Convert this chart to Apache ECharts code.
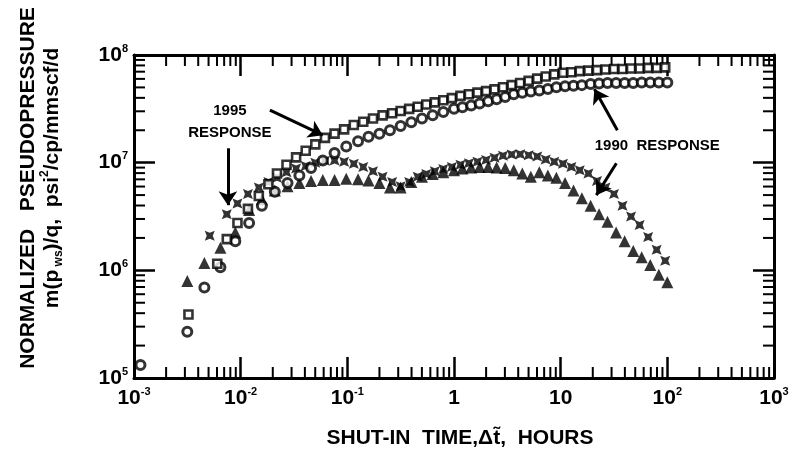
<!DOCTYPE html>
<html>
<head>
<meta charset="utf-8">
<script src="https://cdn.jsdelivr.net/npm/echarts@6/dist/echarts.min.js"></script>
<style>
  html, body { margin: 0; padding: 0; background: #fff; }
  #chart { width: 803px; height: 453px; }
</style>
</head>
<body>
<div id="chart"></div>
<script>
// shut-in time (hours) and normalized pseudopressure, psi^2/cp/mmscf/d
var time1995 = [3.24e-3, 5.13e-3, 6.03e-3, 7.41e-3, 9.33e-3, 1.17e-2, 1.48e-2, 1.82e-2, 2.19e-2, 2.69e-2,
  3.31e-2, 4.07e-2, 5.01e-2, 6.17e-2, 7.59e-2, 9.33e-2, 0.115, 0.141, 0.174, 0.214,
  0.263, 0.316, 0.380, 0.457, 0.550, 0.661, 0.794, 0.955, 1.15, 1.38,
  1.66, 2.00, 2.40, 2.88, 3.47, 4.17, 5.01, 6.03, 7.24, 8.71,
  10.5, 12.6, 15.1, 18.2, 21.9, 26.3, 31.6, 38.0, 45.7, 55.0,
  66.1, 79.4, 95.5];
var pressure1995 = [3.89e5, null, 1.15e6, 1.95e6, 2.75e6, 3.72e6, 4.90e6, 6.31e6, 7.94e6, 9.55e6,
  1.12e7, 1.29e7, 1.48e7, 1.70e7, 1.86e7, 2.04e7, 2.24e7, 2.40e7, 2.57e7, 2.75e7,
  2.88e7, 3.02e7, 3.16e7, 3.31e7, 3.47e7, 3.63e7, 3.80e7, 3.98e7, 4.17e7, 4.32e7,
  4.47e7, 4.62e7, 4.79e7, 5.01e7, 5.25e7, 5.50e7, 5.75e7, 6.03e7, 6.31e7, 6.61e7,
  6.84e7, 6.92e7, 7.08e7, 7.16e7, 7.24e7, 7.33e7, 7.41e7, 7.41e7, 7.50e7, 7.50e7,
  7.59e7, 7.59e7, 7.67e7];
var derivative1995 = [null, 2.09e6, null, 3.31e6, 4.17e6, 5.13e6, 5.89e6, 6.61e6, 7.24e6, 8.13e6,
  8.81e6, 9.33e6, 1.00e7, 1.04e7, 1.05e7, 1.02e7, 9.77e6, 9.12e6, 8.32e6, 7.41e6,
  6.61e6, 6.03e6, 6.61e6, 7.41e6, 7.85e6, 8.32e6, 8.71e6, 9.12e6, 9.55e6, 9.89e6,
  1.02e7, 1.06e7, 1.11e7, 1.16e7, 1.19e7, 1.20e7, 1.17e7, 1.14e7, 1.07e7, 1.02e7,
  9.77e6, 9.12e6, 8.51e6, 7.94e6, 6.76e6, 5.89e6, 5.13e6, 3.98e6, 3.16e6, 2.63e6,
  2.04e6, 1.55e6, 1.23e6];

var time1990 = [1.15e-3, 3.16e-3, 4.57e-3, 6.46e-3, 8.91e-3, 1.20e-2, 1.58e-2, 2.09e-2, 2.75e-2, 3.55e-2,
  4.57e-2, 5.89e-2, 7.59e-2, 9.77e-2, 0.126, 0.158, 0.200, 0.251, 0.316, 0.398,
  0.501, 0.631, 0.794, 1.00, 1.20, 1.45, 1.74, 2.09, 2.51, 3.02,
  3.63, 4.37, 5.25, 6.31, 7.59, 9.12, 11.0, 13.2, 15.8, 19.1,
  22.9, 27.5, 33.1, 39.8, 47.9, 57.5, 69.2, 83.2, 100];
var pressure1990 = [1.32e5, 2.69e5, 6.92e5, 1.07e6, 1.86e6, 2.75e6, 3.98e6, 5.37e6, 6.46e6, 7.59e6,
  8.91e6, 1.05e7, 1.23e7, 1.41e7, 1.58e7, 1.74e7, 1.86e7, 2.00e7, 2.19e7, 2.37e7,
  2.57e7, 2.75e7, 2.95e7, 3.16e7, 3.27e7, 3.39e7, 3.55e7, 3.72e7, 3.89e7, 4.07e7,
  4.32e7, 4.47e7, 4.57e7, 4.68e7, 4.84e7, 5.01e7, 5.13e7, 5.19e7, 5.25e7, 5.37e7,
  5.43e7, 5.50e7, 5.50e7, 5.50e7, 5.50e7, 5.56e7, 5.56e7, 5.56e7, 5.56e7];
var derivative1990 = [null, 7.94e5, 1.17e6, 1.62e6, 2.24e6, 3.63e6, 4.57e6, 5.50e6, 6.03e6, 6.46e6,
  6.76e6, 6.92e6, 6.92e6, 7.08e6, 7.00e6, 6.84e6, 6.46e6, 5.89e6, 5.89e6, 6.61e6,
  7.41e6, 7.85e6, 8.13e6, 8.51e6, 8.81e6, 9.02e6, 9.12e6, 9.12e6, 9.02e6, 8.91e6,
  8.51e6, 7.94e6, 7.41e6, 8.13e6, 7.59e6, 7.24e6, 6.46e6, 5.50e6, 4.68e6, 3.98e6,
  3.31e6, 2.82e6, 2.24e6, 1.86e6, 1.51e6, 1.32e6, 1.12e6, 9.12e5, 7.76e5];

// axes
var xRange = [1e-3, 1e3];
var yRange = [1e5, 1e8];
var xTickLabels = [['10', '-3'], ['10', '-2'], ['10', '-1'], ['1', ''], ['10', ''], ['10', '2'], ['10', '3']];
var yTickLabels = [['10', '5'], ['10', '6'], ['10', '7'], ['10', '8']];
var minorSteps = [2, 3, 4, 5, 6, 7, 8, 9];

// annotations, in data coordinates
var arrows = [
  [[0.0188, 3.08e7], [0.0589, 1.80e7]],
  [[7.59e-3, 1.36e7], [7.59e-3, 4.03e6]],
  [[34.0, 2.00e7], [20.7, 4.83e7]],
  [[33.3, 9.89e6], [21.6, 4.99e6]]
];
var notes = [
  { text: '1995', at: [7.93e-3, 3.01e7] },
  { text: 'RESPONSE', at: [7.93e-3, 1.88e7] },
  { text: '1990  RESPONSE', at: [80.5, 1.42e7] }
];

var font = '"Liberation Sans", Arial, Helvetica, sans-serif';
var ink = '#000';

function toPairs (t, v) {
  var out = [];
  for (var i = 0; i < t.length; i++) {
    if (v[i] != null) out.push([t[i], v[i]]);
  }
  return out;
}

function minorValues (range) {
  var out = [];
  for (var d = range[0]; d < range[1] * 0.999; d *= 10) {
    minorSteps.forEach(function (m) { out.push(d * m); });
  }
  return out;
}

function tickLabel (labels, range) {
  return function (value) {
    var i = Math.round(Math.log10(value) - Math.log10(range[0]));
    var l = labels[i];
    if (!l) return '';
    return l[1] ? '{n|' + l[0] + '}{s|' + l[1] + '}' : '{n|' + l[0] + '}';
  };
}

var labelRich = {
  n: { fontFamily: font, fontWeight: 'bold', fontSize: 21, color: ink, lineHeight: 24 },
  s: { fontFamily: font, fontWeight: 'bold', fontSize: 11, color: ink, verticalAlign: 'top', lineHeight: 12 }
};

var tickStyle = { inside: true, length: 21, lineStyle: { color: ink, width: 2.5 } };
var lineStyle = { show: true, lineStyle: { color: ink, width: 3 } };

// minor log ticks on all four sides
function minorTickX (params, api) {
  var x = api.coord([api.value(0), yRange[0]])[0];
  var yb = api.coord([xRange[0], yRange[0]])[1];
  var yt = api.coord([xRange[0], yRange[1]])[1];
  return {
    type: 'group',
    children: [
      { type: 'line', shape: { x1: x, y1: yb, x2: x, y2: yb - 11 }, style: { stroke: ink, lineWidth: 2 } },
      { type: 'line', shape: { x1: x, y1: yt, x2: x, y2: yt + 11 }, style: { stroke: ink, lineWidth: 2 } }
    ]
  };
}
function minorTickY (params, api) {
  var y = api.coord([xRange[0], api.value(1)])[1];
  var xl = api.coord([xRange[0], yRange[0]])[0];
  var xr = api.coord([xRange[1], yRange[0]])[0];
  return {
    type: 'group',
    children: [
      { type: 'line', shape: { x1: xl, y1: y, x2: xl + 11, y2: y }, style: { stroke: ink, lineWidth: 2 } },
      { type: 'line', shape: { x1: xr, y1: y, x2: xr - 11, y2: y }, style: { stroke: ink, lineWidth: 2 } }
    ]
  };
}

var chart = echarts.init(document.getElementById('chart'));

chart.setOption({
  animation: false,
  backgroundColor: '#fff',
  grid: { left: 134, top: 55, right: 29, bottom: 75 },
  xAxis: [
    {
      type: 'log', logBase: 10, min: xRange[0], max: xRange[1], splitNumber: 6,
      axisLine: lineStyle, axisTick: tickStyle, splitLine: { show: false },
      axisLabel: { margin: 8, formatter: tickLabel(xTickLabels, xRange), rich: labelRich }
    },
    {
      type: 'log', logBase: 10, min: xRange[0], max: xRange[1], splitNumber: 6, position: 'top',
      axisLine: lineStyle, axisTick: tickStyle, splitLine: { show: false }, axisLabel: { show: false }
    }
  ],
  yAxis: [
    {
      type: 'log', logBase: 10, min: yRange[0], max: yRange[1], splitNumber: 3,
      axisLine: lineStyle, axisTick: tickStyle, splitLine: { show: false },
      axisLabel: { margin: 6, formatter: tickLabel(yTickLabels, yRange), rich: labelRich }
    },
    {
      type: 'log', logBase: 10, min: yRange[0], max: yRange[1], splitNumber: 3, position: 'right',
      axisLine: lineStyle, axisTick: tickStyle, splitLine: { show: false }, axisLabel: { show: false }
    }
  ],
  series: [
    {
      type: 'custom', silent: true, renderItem: minorTickX,
      data: minorValues(xRange).map(function (v) { return [v, yRange[0]]; })
    },
    {
      type: 'custom', silent: true, renderItem: minorTickY,
      data: minorValues(yRange).map(function (v) { return [xRange[0], v]; })
    },
    {
      name: '1990 derivative', type: 'scatter', symbol: 'triangle', symbolSize: 12,
      itemStyle: { color: ink },
      data: toPairs(time1990, derivative1990)
    },
    {
      name: '1995 derivative', type: 'scatter',
      symbol: 'path://M0,0L5,2L10,0L8,5L10,10L5,8L0,10L2,5Z', symbolSize: 10,
      itemStyle: { color: ink },
      data: toPairs(time1995, derivative1995)
    },
    {
      name: '1990 pressure', type: 'scatter', symbol: 'circle', symbolSize: 9,
      itemStyle: { color: '#fff', borderColor: ink, borderWidth: 3 },
      data: toPairs(time1990, pressure1990)
    },
    {
      name: '1995 pressure', type: 'scatter', symbol: 'rect', symbolSize: 8,
      itemStyle: { color: '#fff', borderColor: ink, borderWidth: 2.6 },
      data: toPairs(time1995, pressure1995),
      markLine: {
        silent: true, symbol: ['none', 'arrow'], symbolSize: 14,
        label: { show: false },
        lineStyle: { color: ink, width: 3, type: 'solid' },
        data: arrows.map(function (a) { return [{ coord: a[0] }, { coord: a[1] }]; })
      }
    }
  ]
});

// text annotations placed through the axes
var graphics = notes.map(function (n) {
  var p = chart.convertToPixel({ gridIndex: 0 }, n.at);
  return {
    type: 'text', x: p[0], y: p[1],
    style: { text: n.text, fill: ink, font: 'bold 15px ' + font, align: 'center', verticalAlign: 'middle' }
  };
});

// axis titles
graphics.push({
  type: 'text', x: 460, y: 438,
  style: { text: 'SHUT-IN  TIME,\u0394t\u0303,  HOURS', fill: ink, font: 'bold 21px ' + font, align: 'center', verticalAlign: 'middle' }
});
graphics.push({
  type: 'text', x: 28, y: 188, rotation: Math.PI / 2,
  style: { text: 'NORMALIZED   PSEUDOPRESSURE', fill: ink, font: 'bold 21px ' + font, align: 'center', verticalAlign: 'middle' }
});
graphics.push({
  type: 'text', x: 52, y: 178, rotation: Math.PI / 2,
  style: {
    text: '{a|m(p}{b| ws}{a|)/q,  psi}{c|2}{a|/cp/mmscf/d}',
    fill: ink, align: 'center', verticalAlign: 'middle',
    rich: {
      a: { fontFamily: font, fontWeight: 'bold', fontSize: 21, fill: ink, lineHeight: 26 },
      b: { fontFamily: font, fontWeight: 'bold', fontSize: 12, fill: ink, verticalAlign: 'bottom', lineHeight: 26 },
      c: { fontFamily: font, fontWeight: 'bold', fontSize: 12, fill: ink, verticalAlign: 'top', lineHeight: 26 }
    }
  }
});

chart.setOption({ graphic: graphics });
</script>
</body>
</html>
